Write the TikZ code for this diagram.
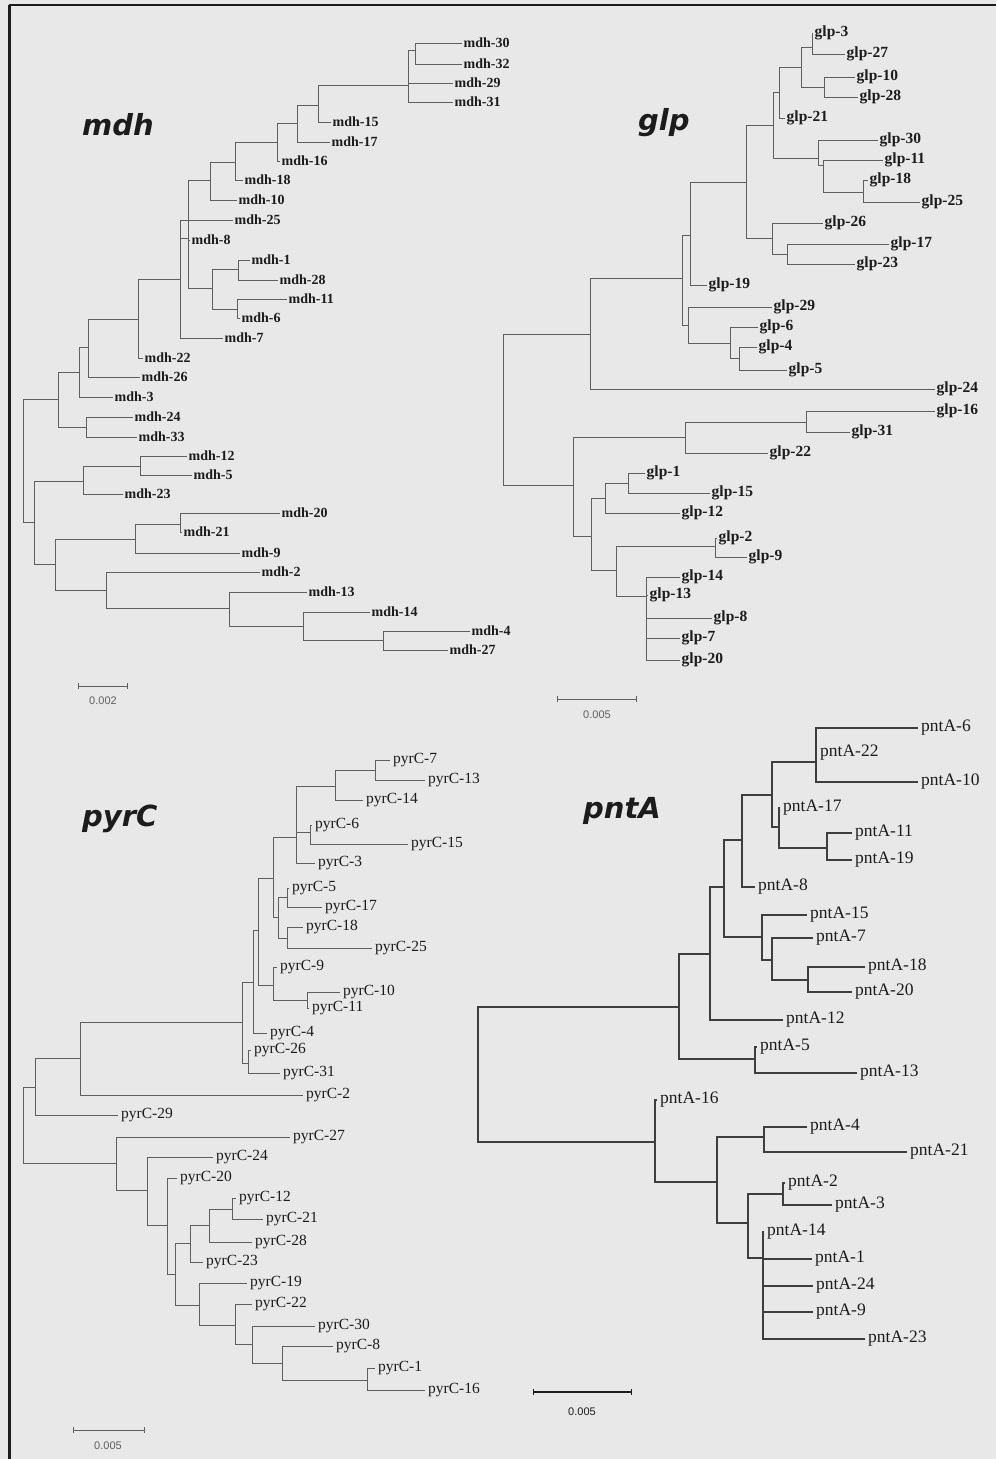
\documentclass[tikz,border=0pt]{standalone}
\usepackage{fontspec}
\setmainfont{Liberation Serif}
\newfontfamily\titlefont{DejaVu Sans}
\newfontfamily\barfont{Liberation Sans}
\usetikzlibrary{arrows.meta}
\definecolor{paper}{RGB}{232,232,232}
\definecolor{treeGray}{RGB}{95,95,95}
\definecolor{inkDark}{RGB}{28,28,28}

\begin{document}
\begin{tikzpicture}[x=1pt, y=-1pt,
  branch/.style={treeGray, line width=1pt},
  thickbranch/.style={inkDark!85, line width=1.5pt},
  leaf/.style={anchor=west, inner xsep=1.5pt, inner ysep=0pt, text=inkDark},
  mdhleaf/.style={leaf, font=\bfseries\fontsize{14}{15}\selectfont},
  glpleaf/.style={leaf, font=\bfseries\fontsize{15.5}{16}\selectfont},
  pyrleaf/.style={leaf, inner xsep=3pt, font=\fontsize{15.5}{16}\selectfont},
  pntleaf/.style={leaf, inner xsep=3pt, font=\fontsize{17.5}{18}\selectfont},
  title/.style={anchor=base west, inner sep=0pt, text=inkDark,
    font=\titlefont\bfseries\itshape\fontsize{29}{30}\selectfont},
  bar/.style={treeGray, line width=0.8pt, {Bar[width=6pt]}-{Bar[width=6pt]}},
  barlabel/.style={inner sep=0pt, text=treeGray, font=\barfont\fontsize{11}{12}\selectfont}]

\fill[paper] (0,0) rectangle (996,1459);
\useasboundingbox (0,0) rectangle (996,1459);
\draw[inkDark, line width=1.5pt] (996,5) -- (9,5);
\draw[inkDark, line width=3pt] (9,5) -- (9,1459);

% mdh
\node[title] (mdhTitle) at (82,135) {mdh};
\coordinate (mQ) at (23,460);
\foreach \nm/\up/\x/\y in {mO/mQ/58/399, mN/mO/79/372, mM/mN/88/347, mL/mM/138/319,
    mK/mL/180/279, mG/mK/188/238, mF/mG/210/180, mE/mF/235/162, mD/mE/277/142,
    mC/mD/297/123, mB/mC/318/105, mA/mB/408/85, mA2/mA/415/50, mH/mG/212/288,
    mI/mH/238/269, mJ/mH/237/309, mP/mO/86/427, mU/mQ/34/522, mT/mU/83/481,
    mS/mT/140/466, mV/mU/55/564, mW/mV/135/539, mW2/mW/180/524, mX/mV/106/590,
    mY/mX/229/608, mZ/mY/303/626, mZ2/mZ/383/640}
  {\coordinate (\nm) at (\x,\y); \draw[branch] (\up) |- (\nm);}
\foreach \n/\up/\x/\y in {30/mA2/462/43, 32/mA2/462/64, 29/mA/453/83, 31/mA/453/102,
    15/mB/331/122, 17/mC/330/142, 16/mD/280/161, 18/mE/243/180, 10/mF/237/200,
    25/mK/233/220, 8/mG/190/240, 1/mI/250/260, 28/mI/278/280, 11/mJ/287/299,
    6/mJ/240/318, 7/mK/223/338, 22/mL/143/358, 26/mM/140/377, 3/mN/113/397,
    24/mP/133/417, 33/mP/137/437, 12/mS/187/456, 5/mS/192/475, 23/mT/123/494,
    20/mW2/280/513, 21/mW2/182/532, 9/mW/240/553, 2/mX/260/572, 13/mY/307/592,
    14/mZ/370/612, 4/mZ2/470/631, 27/mZ2/448/650}
  {\node[mdhleaf] (mdh\n) at (\x,\y) {mdh-\n}; \draw[branch] (\up) |- (mdh\n.west);}
\coordinate (mdhBarL) at (78,686);
\coordinate (mdhBarR) at (128,686);
\draw[bar] (mdhBarL) -- (mdhBarR);
\node[barlabel] (mdhBarText) at (103,701) {0.002};

% glp
\node[title] (glpTitle) at (638,130) {glp};
\coordinate (gR) at (503,410);
\foreach \nm/\up/\x/\y in {g17/gR/590/334, g13/g17/682/278, g12/g13/690/235,
    g9/g12/746/182, g5/g9/773/125, g4/g5/779/92, g2/g4/801/67, g1/g2/812/47,
    g3/g2/824/87, g6/g5/818/158, g7/g6/823/165, g8/g7/863/192, g10/g9/772/238,
    g11/g10/787/254, g14/g13/688/325, g15/g14/730/343, g16/g15/739/358,
    g19/gR/573/485, g20/g19/685/437, g22/g20/806/422, g21/g19/591/536,
    g23/g21/605/498, g25/g23/628/483, g24/g21/616/570, g26/g24/715/546,
    g27/g24/646/596}
  {\coordinate (\nm) at (\x,\y); \draw[branch] (\up) |- (\nm);}
\foreach \n/\up/\x/\y in {3/g1/813/33, 27/g1/845/54, 10/g3/855/77, 28/g3/858/97,
    21/g4/785/118, 30/g6/878/140, 11/g7/883/160, 18/g8/868/180, 25/g8/920/202,
    26/g10/823/223, 17/g11/889/244, 23/g11/855/264, 19/g12/707/285,
    29/g14/772/307, 6/g15/758/327, 4/g16/757/347, 5/g16/787/370,
    24/g17/935/389, 16/g22/935/411, 31/g22/850/432, 22/g20/768/453,
    1/g25/645/473, 15/g25/710/493, 12/g23/680/513, 2/g26/717/538,
    9/g26/747/557, 14/g27/680/577, 13/g27/648/595, 8/g27/712/618,
    7/g27/680/638, 20/g27/680/660}
  {\node[glpleaf] (glp\n) at (\x,\y) {glp-\n}; \draw[branch] (\up) |- (glp\n.west);}
\coordinate (glpBarL) at (557,699);
\coordinate (glpBarR) at (637,699);
\draw[bar] (glpBarL) -- (glpBarR);
\node[barlabel] (glpBarText) at (597,715) {0.005};

% pyrC
\node[title] (pyrTitle) at (82,826) {pyrC};
\coordinate (cR) at (23,1120);
\foreach \nm/\up/\x/\y in {c16/cR/35/1087, c15/c16/80/1058, c13/c15/242/1022,
    c12/c13/253/982, c9/c12/258/930, c5/c9/273/878, c3/c5/296/837,
    c2/c3/335/786, c1/c2/375/770, c4/c3/310/832, c6/c5/278/917,
    c7/c6/287/897, c8/c6/287/938, c10/c9/273/985, c11/c10/307/1000,
    c14/c13/248/1063, c18/cR/116/1163, c19/c18/147/1190, c20/c19/167/1225,
    c21/c20/175/1274, c22/c21/190/1243, c24/c22/209/1225, c25/c24/232/1209,
    c23/c21/199/1305, c26/c23/235/1325, c27/c26/252/1344, c28/c27/282/1363,
    c29/c28/367/1380}
  {\coordinate (\nm) at (\x,\y); \draw[branch] (\up) |- (\nm);}
\foreach \n/\up/\x/\y in {7/c1/390/760, 13/c1/425/780, 14/c2/363/800, 6/c4/312/825,
    15/c4/408/844, 3/c3/315/863, 5/c7/289/888, 17/c7/322/907, 18/c8/303/927,
    25/c8/372/948, 9/c10/277/967, 10/c11/340/992, 11/c11/309/1008,
    4/c12/267/1033, 26/c14/251/1050, 31/c14/280/1073, 2/c15/303/1095,
    29/c16/118/1115, 27/c18/290/1137, 24/c19/213/1157, 20/c20/177/1178,
    12/c25/236/1198, 21/c25/263/1219, 28/c24/252/1242, 23/c22/203/1262,
    19/c23/247/1283, 22/c26/252/1304, 30/c27/315/1326, 8/c28/333/1346,
    1/c29/375/1368, 16/c29/425/1390}
  {\node[pyrleaf] (pyrC\n) at (\x,\y) {pyrC-\n}; \draw[branch] (\up) |- (pyrC\n.west);}
\coordinate (pyrBarL) at (73,1430);
\coordinate (pyrBarR) at (145,1430);
\draw[bar] (pyrBarL) -- (pyrBarR);
\node[barlabel] (pyrBarText) at (108,1446) {0.005};

% pntA
\node[title] (pntTitle) at (583,818) {pntA};
\coordinate (tR) at (478,1075);
\foreach \nm/\up/\x/\y in {t11/tR/679/1007, t10/t11/710/954, t6/t10/724/887,
    t5/t6/742/840, t2/t5/772/795, t1/t2/816/762, t3/t2/779/827, t4/t3/827/848,
    t7/t6/762/937, t8/t7/772/960, t9/t8/808/980, t12/t11/755/1059,
    t14/tR/655/1142, t15/t14/717/1182, t16/t15/764/1137, t17/t15/748/1223,
    t18/t17/783/1194, t19/t17/763/1258}
  {\coordinate (\nm) at (\x,\y); \draw[thickbranch] (\up) |- (\nm);}
\foreach \n/\up/\x/\y in {6/t1/918/728, 22/t1/817/753, 10/t1/918/782, 17/t3/780/808,
    11/t4/852/833, 19/t4/852/860, 8/t5/755/887, 15/t7/807/915, 7/t8/813/938,
    18/t9/865/967, 20/t9/852/992, 12/t10/783/1020, 5/t12/757/1047,
    13/t12/857/1073, 16/t14/657/1100, 4/t16/807/1127, 21/t16/907/1152,
    2/t18/785/1183, 3/t18/832/1205, 14/t19/764/1232, 1/t19/812/1259,
    24/t19/813/1286, 9/t19/813/1312, 23/t19/865/1339}
  {\node[pntleaf] (pntA\n) at (\x,\y) {pntA-\n}; \draw[thickbranch] (\up) |- (pntA\n.west);}
\coordinate (pntBarL) at (533,1392);
\coordinate (pntBarR) at (632,1392);
\draw[bar, inkDark, line width=1.2pt] (pntBarL) -- (pntBarR);
\node[barlabel, text=inkDark] (pntBarText) at (582,1412) {0.005};
\end{tikzpicture}
\end{document}
